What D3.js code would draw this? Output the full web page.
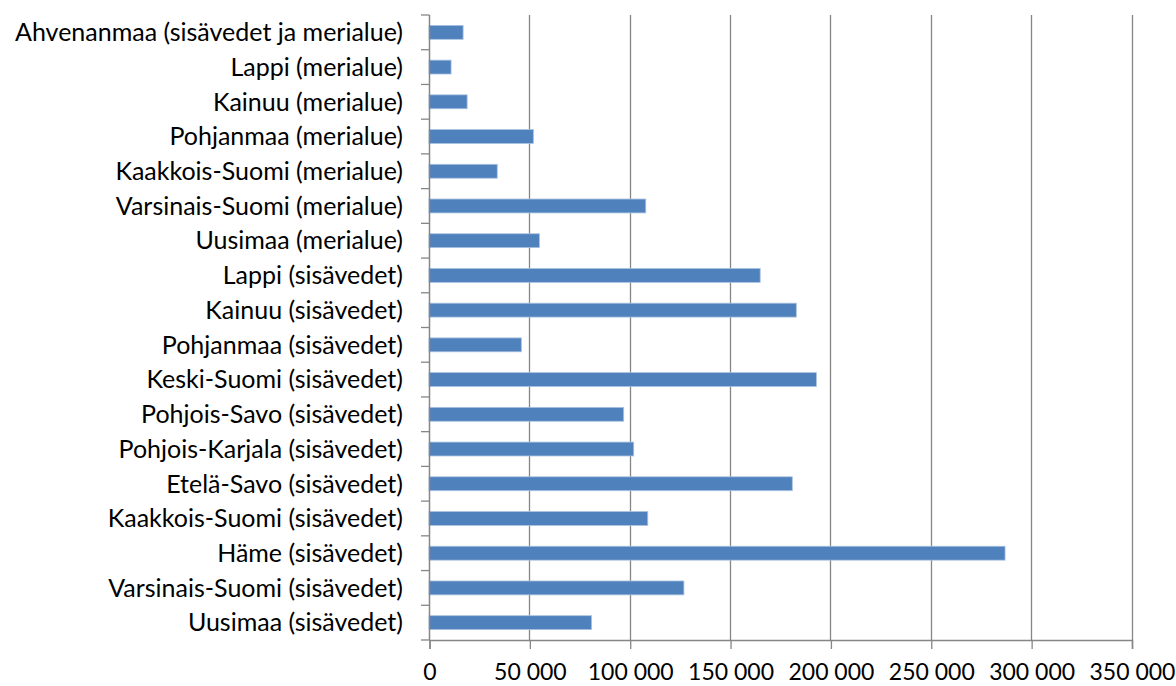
<!DOCTYPE html>
<html>
<head>
<meta charset="utf-8">
<script src="https://cdn.jsdelivr.net/npm/d3@7"></script>
<style>
  html, body { margin: 0; padding: 0; background: #ffffff; }
  svg { display: block; }
  text { font-family: Lato, "Open Sans", sans-serif; fill: #000; }
</style>
</head>
<body>
<svg id="chart" width="1176" height="686"></svg>
<script>
// Regions, listed top to bottom as they appear on the chart
const categories = [
  "Ahvenanmaa (sisävedet ja merialue)",
  "Lappi (merialue)",
  "Kainuu (merialue)",
  "Pohjanmaa (merialue)",
  "Kaakkois-Suomi (merialue)",
  "Varsinais-Suomi (merialue)",
  "Uusimaa (merialue)",
  "Lappi (sisävedet)",
  "Kainuu (sisävedet)",
  "Pohjanmaa (sisävedet)",
  "Keski-Suomi (sisävedet)",
  "Pohjois-Savo (sisävedet)",
  "Pohjois-Karjala (sisävedet)",
  "Etelä-Savo (sisävedet)",
  "Kaakkois-Suomi (sisävedet)",
  "Häme (sisävedet)",
  "Varsinais-Suomi (sisävedet)",
  "Uusimaa (sisävedet)"
];

const values = [
  17000, 11000, 19000, 52000, 34000, 108000, 55000,
  165000, 183000, 46000, 193000, 97000, 102000, 181000,
  109000, 287000, 127000, 81000
];

const xTicks = [0, 50000, 100000, 150000, 200000, 250000, 300000, 350000];
const xMax = 350000;

const margin = { top: 15, right: 45, bottom: 46, left: 429 };
const width = 1176, height = 686;
const svg = d3.select("#chart");

const x = d3.scaleLinear()
  .domain([0, xMax])
  .range([margin.left, width - margin.right + 0.5]);

const y = d3.scaleBand()
  .domain(categories)
  .range([margin.top, height - margin.bottom])
  .paddingInner(0.6)
  .paddingOuter(0.3);

const axisColor = "#868686";
// thousands separated by a space
const fmt = v => d3.format(",")(v).replace(/,/g, " ");

// vertical gridlines
svg.append("g")
  .selectAll("line")
  .data(xTicks.filter(d => d > 0))
  .join("line")
  .attr("x1", d => Math.round(x(d)) + 0.5)
  .attr("x2", d => Math.round(x(d)) + 0.5)
  .attr("y1", margin.top)
  .attr("y2", height - margin.bottom)
  .attr("stroke", axisColor)
  .attr("stroke-width", 1.3);

// bars
svg.append("g")
  .selectAll("rect")
  .data(categories)
  .join("rect")
  .attr("x", x(0))
  .attr("y", (d) => y(d))
  .attr("width", (d, i) => x(values[i]) - x(0))
  .attr("height", y.bandwidth())
  .attr("fill", "#4f81bd")
  .attr("stroke", "#a9c2e0")
  .attr("stroke-width", 0.8);

// bottom axis
const xAxis = d3.axisBottom(x)
  .tickValues(xTicks)
  .tickSize(9)
  .tickPadding(15)
  .tickFormat(fmt);

const gx = svg.append("g")
  .attr("transform", `translate(0.5,${height - margin.bottom})`)
  .call(xAxis);
gx.select(".domain").attr("stroke", axisColor).attr("stroke-width", 1.5);
gx.selectAll(".tick line").attr("stroke", axisColor).attr("stroke-width", 1.3);
gx.selectAll(".tick text")
  .style("font-size", "23px")
  .attr("fill", "#000");

// left axis: ticks sit on the band boundaries
const step = y.step();
const boundaries = d3.range(categories.length + 1).map(i => margin.top + i * step);

const gy = svg.append("g");
gy.append("line")
  .attr("x1", x(0) + 0.5).attr("x2", x(0) + 0.5)
  .attr("y1", margin.top).attr("y2", height - margin.bottom)
  .attr("stroke", axisColor).attr("stroke-width", 1.5);
gy.selectAll("line.tk")
  .data(boundaries)
  .join("line")
  .attr("class", "tk")
  .attr("x1", x(0) - 8).attr("x2", x(0) + 0.5)
  .attr("y1", d => d).attr("y2", d => d)
  .attr("stroke", axisColor).attr("stroke-width", 1.3);

gy.selectAll("text")
  .data(categories)
  .join("text")
  .attr("x", x(0) - 26)
  .attr("y", d => y(d) + y.bandwidth() / 2)
  .attr("dy", "0.35em")
  .attr("text-anchor", "end")
  .style("font-size", "25px")
  .text(d => d);
</script>
</body>
</html>
